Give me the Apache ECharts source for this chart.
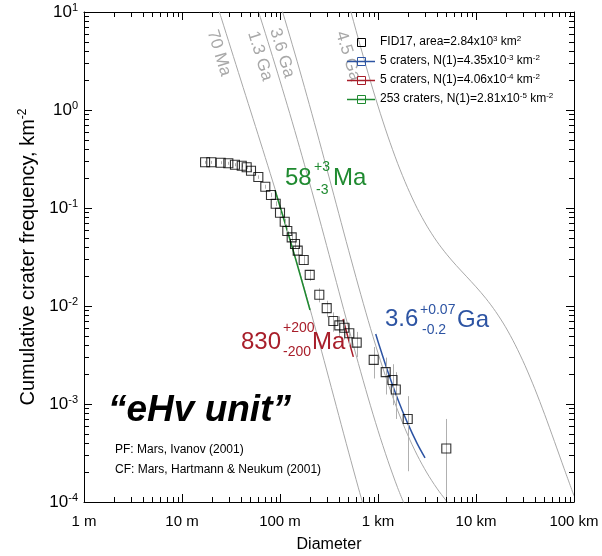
<!DOCTYPE html>
<html><head><meta charset="utf-8">
<script src="https://cdn.jsdelivr.net/npm/echarts@6.0.0/dist/echarts.min.js"></script>
<style>html,body{margin:0;padding:0;background:#fff}#c{width:602px;height:556px}</style>
</head><body><div id="c"></div>
<script>
// ---------- data ----------
const xTickLabels = ['1 m', '10 m', '100 m', '1 km', '10 km', '100 km'];
const yTickExponents = ['-4', '-3', '-2', '-1', '0', '1'];

// FID17 cumulative crater counts (diameter in m, frequency in km^-2)
const diameters = [17.2, 19.9, 24.8, 29.7, 34.7, 40.7, 45.7, 50.6, 60.1, 70.8, 80.9, 90.4, 100, 111.7, 118.7, 131.6, 142.3, 151.6, 174.5, 201, 251.8, 299.6, 349.9, 402.9, 453.2, 509.6, 606.3, 904, 1198, 1406, 1519, 2010, 4977];
const frequencies = [0.2925, 0.2925, 0.290, 0.2858, 0.2765, 0.2700, 0.2601, 0.2401, 0.2071, 0.1650, 0.1358, 0.1106, 0.0895, 0.0725, 0.0582, 0.0502, 0.0429, 0.0367, 0.0295, 0.02077, 0.01303, 0.00951, 0.00704, 0.00634, 0.00599, 0.00528, 0.004225, 0.002817, 0.002113, 0.00176, 0.001408, 0.000704, 0.000352];
const errLow = [0.2824, 0.2824, 0.2799, 0.2758, 0.2666, 0.2603, 0.2505, 0.2309, 0.1986, 0.1574, 0.1289, 0.1044, 0.0839, 0.0674, 0.0537, 0.0460, 0.0390, 0.0331, 0.0263, 0.01807, 0.01089, 0.00768, 0.00547, 0.00485, 0.00454, 0.00392, 0.003005, 0.00182, 0.00125, 0.000973, 0.000704, 0.000206, 0.0001];
const errHigh = [0.3026, 0.3026, 0.3001, 0.2958, 0.2864, 0.2797, 0.2697, 0.2493, 0.2156, 0.1726, 0.1427, 0.1168, 0.0951, 0.0776, 0.0627, 0.0544, 0.0468, 0.0403, 0.0327, 0.02347, 0.01517, 0.01134, 0.00861, 0.00783, 0.00744, 0.00664, 0.005445, 0.003813, 0.002976, 0.002547, 0.002112, 0.001202, 0.000704];

// isochrons (gray)
const iso70MaD = [19.95, 25.12, 31.62, 39.81, 50.12, 63.1, 79.43, 100, 125.9, 158.5, 199.5, 251.2, 316.2, 398.1, 501.2, 631, 794.3];
const iso70MaN = [18.24, 8.75, 4.207, 2.023, 0.977, 0.472, 0.226, 0.1067, 0.0494, 0.02234, 0.00986, 0.004256, 0.001807, 0.000762, 0.000323, 0.0001393, 0.000062];
const iso13GaD = [50.12, 63.1, 79.43, 100, 125.9, 158.5, 199.5, 251.2, 316.2, 398.1, 501.2, 631, 794.3, 1000, 1259, 1585, 1995];
const iso13GaN = [18.16, 8.77, 4.198, 1.982, 0.918, 0.415, 0.1832, 0.0791, 0.0336, 0.01416, 0.0060, 0.002588, 0.001152, 0.000537, 0.0002655, 0.00014, 0.0000796];
const iso36GaD = [79.43, 100, 125.9, 158.5, 199.5, 251.2, 316.2, 398.1, 501.2, 631, 794.3, 1000, 1259, 1585, 1995, 2512, 3162, 3981, 5012, 6310];
const iso36GaN = [25.94, 12.25, 5.675, 2.564, 1.132, 0.4887, 0.2075, 0.0875, 0.03707, 0.016, 0.00712, 0.003319, 0.00164, 0.000865, 0.000492, 0.0003006, 0.0001977, 0.0001384, 0.0001021, 0.0000782];
const iso45GaD = [398.1, 501.2, 631, 794.3, 1000, 1259, 1585, 1995, 2512, 3162, 3981, 5012, 6310, 7943, 10000, 12589, 15849, 19953, 25119, 31623, 39811, 50119, 63096, 79433, 100000];
const iso45GaN = [28.9, 12.25, 5.29, 2.354, 1.097, 0.542, 0.2858, 0.1626, 0.0993, 0.0653, 0.0457, 0.03374, 0.02583, 0.02015, 0.01568, 0.01197, 0.00879, 0.00614, 0.00402, 0.002472, 0.00143, 0.000785, 0.000416, 0.0002179, 0.0001157];

// fitted isochron segments
const fitGreenD = [89.1, 125.9, 158.5, 202.3];
const fitGreenN = [0.151, 0.04805, 0.02171, 0.00911];
const fitRedD = [440, 500, 560];
const fitRedN = [0.00737, 0.004573, 0.003023];
const fitBlueD = [948, 1000, 1259, 1585, 1995, 2512, 3020];
const fitBlueN = [0.005179, 0.00435, 0.00215, 0.001134, 0.000645, 0.000394, 0.0002815];

// ---------- chart ----------
const FONT = '"Liberation Sans", Arial, Helvetica, sans-serif';
const GREEN = '#1f8a30', RED = '#a81e2a', BLUE = '#2d54a3', GRAY = '#a8a8a8';
const pairs = (xs, ys) => xs.map((x, i) => [x, ys[i]]);

const tickData = [];
for (let e = 0; e <= 5; e++) for (let m = 1; m <= 9; m++) {
  if (e === 5 && m > 1) break;
  const v = m * Math.pow(10, e), len = m === 1 ? 8 : 5;
  tickData.push([v, 1e-4, 0, len]); tickData.push([v, 10, 1, len]);
}
for (let e = -4; e <= 1; e++) for (let m = 1; m <= 9; m++) {
  if (e === 1 && m > 1) break;
  const v = m * Math.pow(10, e), len = m === 1 ? 8 : 5;
  tickData.push([1, v, 2, len]); tickData.push([1e5, v, 3, len]);
}

function isoSeries(name, xs, ys) {
  return { name, type: 'line', data: pairs(xs, ys), showSymbol: false, smooth: 0.3, silent: true,
    lineStyle: { color: GRAY, width: 1 }, z: 2, clip: true };
}
function fitSeries(name, xs, ys, color) {
  return { name, type: 'line', data: pairs(xs, ys), showSymbol: false, smooth: 0.3, silent: true,
    lineStyle: { color, width: 1.5 }, z: 3, clip: true };
}
function txt(x, y, text, size, color, extra) {
  return Object.assign({ type: 'text', x, y, silent: true, z: 50,
    style: Object.assign({ text, fontSize: size, fontFamily: FONT, fill: color, align: 'left', verticalAlign: 'middle' }, extra || {}) });
}
const supRich = (size, color, pad) => ({ s: { fontSize: size, fontFamily: FONT, fill: color, padding: [0, 0, pad, 0] } });

const legendRows = [
  { y: 42, color: '#000', line: false, text: 'FID17, area=2.84x10{s|3} km{s|2}' },
  { y: 61, color: BLUE, line: true, text: '5 craters, N(1)=4.35x10{s|-3} km{s|-2}' },
  { y: 80, color: RED, line: true, text: '5 craters, N(1)=4.06x10{s|-4} km{s|-2}' },
  { y: 99, color: GREEN, line: true, text: '253 craters, N(1)=2.81x10{s|-5} km{s|-2}' }
];
const graphics = [];
legendRows.forEach(r => {
  if (r.line) graphics.push({ type: 'line', silent: true, z: 50, shape: { x1: 347, y1: r.y + 0.5, x2: 375, y2: r.y + 0.5 }, style: { stroke: r.color, lineWidth: 1.5 } });
  graphics.push({ type: 'rect', silent: true, z: 51, shape: { x: 357.5, y: r.y - 3.5, width: 8, height: 8 }, style: { fill: 'none', stroke: r.color, lineWidth: 1 } });
  graphics.push(txt(380, r.y, r.text, 12, '#000', { rich: supRich(8, '#000', 6) }));
});
const rot = -73 * Math.PI / 180;
[['70 Ma', 219, 53], ['1.3 Ga', 260, 56], ['3.6 Ga', 282, 53], ['4.5 Ga', 348, 56]].forEach(([t, x, y]) => {
  graphics.push({ type: 'text', x, y, rotation: rot, silent: true, z: 40,
    style: { text: t, fontSize: 17, fontFamily: FONT, fill: GRAY, align: 'center', verticalAlign: 'middle' } });
});
// age annotations
graphics.push(txt(285, 178.6, '58', 24, GREEN), txt(314, 167, '+3', 14, GREEN), txt(316, 190, '-3', 14, GREEN), txt(333, 178.6, 'Ma', 24, GREEN));
graphics.push(txt(241, 342.6, '830', 24, RED), txt(283, 328, '+200', 14, RED), txt(283, 352, '-200', 14, RED), txt(312, 342.6, 'Ma', 24, RED));
graphics.push(txt(385, 319.6, '3.6', 24, BLUE), txt(420, 310, '+0.07', 14, BLUE), txt(422, 330, '-0.2', 14, BLUE), txt(457, 320.6, 'Ga', 24, BLUE));
graphics.push(txt(108, 410.5, '\u201CeHv unit\u201D', 37, '#000', { fontWeight: 'bold', fontStyle: 'italic' }));
graphics.push(txt(115, 449.8, 'PF: Mars, Ivanov (2001)', 12, '#000'));
graphics.push(txt(115, 469.8, 'CF: Mars, Hartmann & Neukum (2001)', 12, '#000'));

const chart = echarts.init(document.getElementById('c'), null, { renderer: 'canvas' });
chart.setOption({
  animation: false,
  backgroundColor: '#fff',
  grid: { left: 84, right: 28, top: 12, bottom: 54, containLabel: false, outerBoundsMode: 'none' },
  xAxis: [{
    type: 'log', logBase: 10, min: 1, max: 100000,
    axisLine: { show: true, lineStyle: { color: '#000', width: 1 } },
    axisTick: { show: false }, splitLine: { show: false }, minorTick: { show: false },
    axisLabel: { show: true, showMinLabel: true, showMaxLabel: true, color: '#000', fontSize: 15, fontFamily: FONT, margin: 12,
      formatter: v => xTickLabels[Math.round(Math.log10(v))] },
    name: 'Diameter', nameLocation: 'middle', nameGap: 35,
    nameTextStyle: { color: '#000', fontSize: 16, fontFamily: FONT }
  }, {
    type: 'log', logBase: 10, min: 1, max: 100000, position: 'top',
    axisLine: { show: true, lineStyle: { color: '#000', width: 1 } },
    axisTick: { show: false }, axisLabel: { show: false }, splitLine: { show: false }
  }],
  yAxis: [{
    type: 'log', logBase: 10, min: 1e-4, max: 10,
    axisLine: { show: true, lineStyle: { color: '#000', width: 1 } },
    axisTick: { show: false }, splitLine: { show: false }, minorTick: { show: false },
    axisLabel: { show: true, showMinLabel: true, showMaxLabel: true, color: '#000', fontSize: 17, fontFamily: FONT, margin: 6,
      formatter: v => '10{s|' + yTickExponents[Math.round(Math.log10(v)) + 4] + '}',
      rich: { s: { fontSize: 11, fontFamily: FONT, color: '#000', padding: [0, 0, 9, 0] } } },
    name: 'Cumulative crater frequency, km{s|-2}', nameLocation: 'middle', nameGap: 45,
    nameTextStyle: { color: '#000', fontSize: 20, fontFamily: FONT,
      rich: { s: { fontSize: 12, fontFamily: FONT, color: '#000', padding: [0, 0, 10, 0] } } }
  }, {
    type: 'log', logBase: 10, min: 1e-4, max: 10, position: 'right',
    axisLine: { show: true, lineStyle: { color: '#000', width: 1 } },
    axisTick: { show: false }, axisLabel: { show: false }, splitLine: { show: false }
  }],
  series: [
    isoSeries('70 Ma', iso70MaD, iso70MaN),
    isoSeries('1.3 Ga', iso13GaD, iso13GaN),
    isoSeries('3.6 Ga', iso36GaD, iso36GaN),
    isoSeries('4.5 Ga', iso45GaD, iso45GaN),
    fitSeries('58 Ma fit', fitGreenD, fitGreenN, GREEN),
    fitSeries('830 Ma fit', fitRedD, fitRedN, RED),
    fitSeries('3.6 Ga fit', fitBlueD, fitBlueN, BLUE),
    {
      name: 'error bars', type: 'custom', z: 4, clip: true, silent: true,
      data: diameters.map((d, i) => [d, errLow[i], errHigh[i]]),
      encode: { x: 0, y: [1, 2] },
      renderItem: (params, api) => {
        const a = api.coord([api.value(0), api.value(1)]);
        const b = api.coord([api.value(0), api.value(2)]);
        const x = Math.round(a[0]) + 0.5;
        return { type: 'line', shape: { x1: x, y1: a[1], x2: x, y2: b[1] }, style: { stroke: '#b0b0b0', lineWidth: 1 } };
      }
    },
    {
      name: 'FID17', type: 'scatter', z: 5, silent: true,
      data: pairs(diameters, frequencies), symbol: 'rect', symbolSize: 9,
      itemStyle: { color: 'rgba(0,0,0,0)', borderColor: '#000', borderWidth: 1.1 }
    },
    {
      name: 'ticks', type: 'custom', z: 6, clip: false, silent: true,
      data: tickData, encode: { x: 0, y: 1 },
      renderItem: (params, api) => {
        const p = api.coord([api.value(0), api.value(1)]);
        const side = api.value(2), len = api.value(3);
        const xr = Math.round(p[0]) + 0.5, yr = Math.round(p[1]) + 0.5;
        let shape;
        if (side === 0) shape = { x1: xr, y1: p[1], x2: xr, y2: p[1] - len };
        else if (side === 1) shape = { x1: xr, y1: p[1], x2: xr, y2: p[1] + len };
        else if (side === 2) shape = { x1: p[0], y1: yr, x2: p[0] + len, y2: yr };
        else shape = { x1: p[0], y1: yr, x2: p[0] - len, y2: yr };
        return { type: 'line', shape, style: { stroke: '#000', lineWidth: 1 } };
      }
    }
  ],
  graphic: graphics
});
</script></body></html>
